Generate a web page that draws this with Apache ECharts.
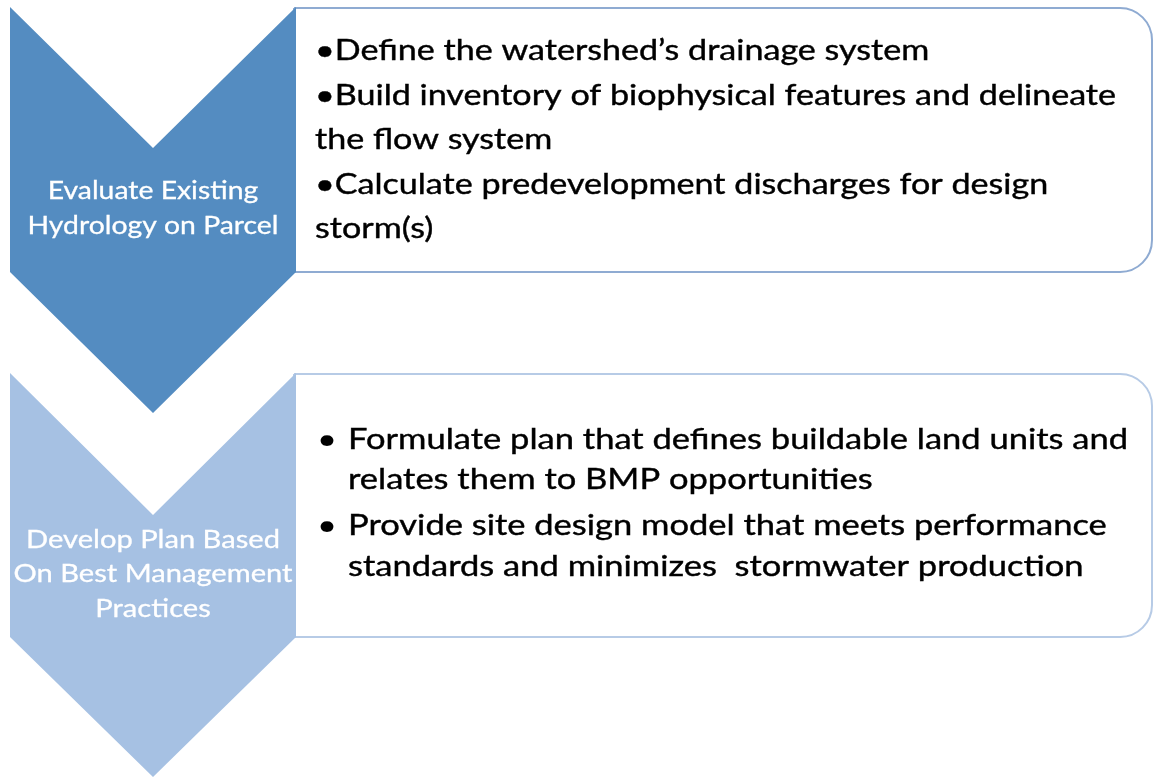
<!DOCTYPE html>
<html>
<head>
<meta charset="utf-8">
<script src="https://cdn.jsdelivr.net/npm/echarts@6/dist/echarts.min.js"></script>
<style>
  html, body { margin: 0; padding: 0; background: #ffffff; }
  #chart { width: 1153px; height: 778px; }
</style>
</head>
<body>
<div id="chart"></div>
<script>
// ---- content (data) ----
const stepTitles = [
  ['Evaluate Existing', 'Hydrology on Parcel'],
  ['Develop Plan Based', 'On Best Management', 'Practices']
];
const step1Lines = [
  '\u2022Define the watershed\u2019s drainage system',
  '\u2022Build inventory of biophysical features and delineate',
  'the flow system',
  '\u2022Calculate predevelopment discharges for design',
  'storm(s)'
];
const step2Bullets = [
  ['Formulate plan that defines buildable land units and', 'relates them to BMP opportunities'],
  ['Provide site design model that meets performance', 'standards and minimizes  stormwater production']
];
const chevronColors = ['#548cc1', '#a6c1e3'];
const boxBorderColors = ['#8fabd2', '#b7cbe6'];

// ---- layout ----
const FONT = 'Lato, "Open Sans", sans-serif';
const ctx = document.createElement('canvas').getContext('2d');
function textW(t, size) { ctx.font = size + 'px ' + FONT; return ctx.measureText(t).width; }

const chevrons = [
  { top: 7, notch: 148, bottom: 272, tip: 413 },
  { top: 373, notch: 515, bottom: 637, tip: 777 }
];
const left = 10, right = 296, mid = 153;
const boxRight = 1152;

const graphics = [];

// boxes
chevrons.forEach(function (c, i) {
  graphics.push({
    type: 'rect',
    shape: { x: 294, y: c.top + 1, width: boxRight - 294, height: c.bottom - c.top - 1, r: [0, 32, 32, 0] },
    style: { fill: '#ffffff', stroke: boxBorderColors[i], lineWidth: 2 }
  });
});
// chevrons
chevrons.forEach(function (c, i) {
  graphics.push({
    type: 'polygon',
    shape: { points: [[left, c.top], [mid, c.notch], [right, c.top], [right, c.bottom], [mid, c.tip], [left, c.bottom]] },
    style: { fill: chevronColors[i] }
  });
});

// chevron titles
const titleSize = 25;
const titleRefW = [[1, 251], [1, 279]];
const titleY = [[191, 226], [540, 574, 609]];
stepTitles.forEach(function (lines, i) {
  const sx = titleRefW[i][1] / textW(lines[titleRefW[i][0]], titleSize);
  lines.forEach(function (t, j) {
    graphics.push({
      type: 'text', x: mid, y: titleY[i][j], scaleX: sx,
      style: { text: t, fill: '#ffffff', stroke: '#ffffff', lineWidth: 0.3, font: titleSize + 'px ' + FONT, textAlign: 'center', textVerticalAlign: 'middle' }
    });
  });
});

// box 1 text
const bodySize = 29;
const sx1 = 801 / textW(step1Lines[1], bodySize);
const y1 = [51, 96, 140, 185, 229];
step1Lines.forEach(function (t, j) {
  graphics.push({
    type: 'text', x: 315, y: y1[j], scaleX: sx1,
    style: { text: t, fill: '#000000', stroke: '#000000', lineWidth: 0.4, font: bodySize + 'px ' + FONT, textAlign: 'left', textVerticalAlign: 'middle' }
  });
});

// box 2 text
const sx2 = 780 / textW(step2Bullets[0][0], bodySize);
const y2 = [[440, 480], [526, 567]];
step2Bullets.forEach(function (lines, i) {
  graphics.push({
    type: 'text', x: 317, y: y2[i][0], scaleX: sx2,
    style: { text: '\u2022', fill: '#000000', font: bodySize + 'px ' + FONT, textAlign: 'left', textVerticalAlign: 'middle' }
  });
  lines.forEach(function (t, j) {
    graphics.push({
      type: 'text', x: 348, y: y2[i][j], scaleX: sx2,
      style: { text: t, fill: '#000000', stroke: '#000000', lineWidth: 0.4, font: bodySize + 'px ' + FONT, textAlign: 'left', textVerticalAlign: 'middle' }
    });
  });
});

const chart = echarts.init(document.getElementById('chart'));
chart.setOption({
  backgroundColor: '#ffffff',
  animation: false,
  graphic: { elements: graphics }
});
</script>
</body>
</html>
